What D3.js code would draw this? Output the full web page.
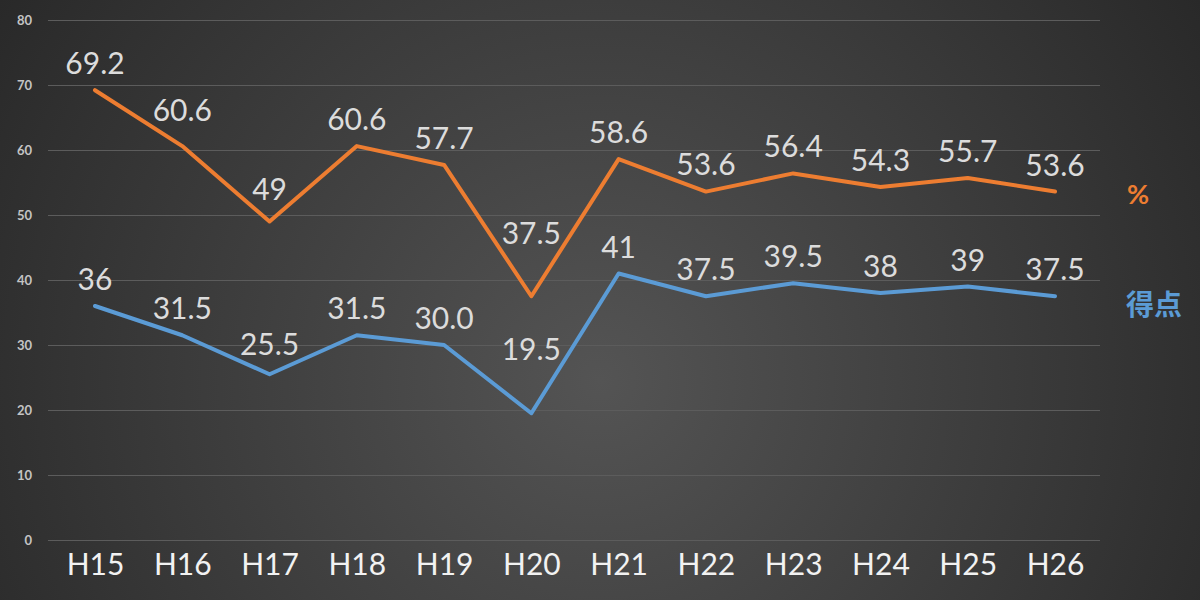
<!DOCTYPE html>
<html>
<head>
<meta charset="utf-8">
<script src="https://cdn.jsdelivr.net/npm/d3@7"></script>
<style>
    body { margin: 0; background: #333; }
    svg { display: block; }
</style>
</head>
<body>
<div id="chart"></div>
<script>
// data
var years = ["H15","H16","H17","H18","H19","H20","H21","H22","H23","H24","H25","H26"];
var pctValues = [69.2, 60.6, 49, 60.6, 57.7, 37.5, 58.6, 53.6, 56.4, 54.3, 55.7, 53.6];
var pctLabels = ["69.2","60.6","49","60.6","57.7","37.5","58.6","53.6","56.4","54.3","55.7","53.6"];
var scoreValues = [36, 31.5, 25.5, 31.5, 30.0, 19.5, 41, 37.5, 39.5, 38, 39, 37.5];
var scoreLabels = ["36","31.5","25.5","31.5","30.0","19.5","41","37.5","39.5","38","39","37.5"];
var yTicks = [0, 10, 20, 30, 40, 50, 60, 70, 80];

var svgWidth = 1200;
var svgHeight = 600;

var svg = d3.select("#chart").append("svg")
    .attr("width", svgWidth)
    .attr("height", svgHeight);

// dark radial background
var defs = svg.append("defs");
var grad = defs.append("radialGradient")
    .attr("id", "bg")
    .attr("gradientUnits", "userSpaceOnUse")
    .attr("cx", 600).attr("cy", 380).attr("r", 760);
grad.append("stop").attr("offset", "0%").attr("stop-color", "#545454");
grad.append("stop").attr("offset", "100%").attr("stop-color", "#262626");

svg.append("rect")
    .attr("width", svgWidth)
    .attr("height", svgHeight)
    .style("fill", "url(#bg)");

var x = d3.scalePoint()
    .domain(years)
    .range([95, 1055]);

var y = d3.scaleLinear()
    .domain([0, 80])
    .range([540, 20]);

// gridlines + y labels
var yAxis = d3.axisLeft(y)
    .tickValues(yTicks)
    .tickSize(-(1100 - 48))
    .tickPadding(16);

var yAxisSVG = svg.append("g")
    .attr("class", "y axis")
    .attr("transform", "translate(48,0)")
    .call(yAxis);
yAxisSVG.select(".domain").remove();
yAxisSVG.selectAll("line")
    .style("stroke", "#5c5c5c")
    .style("stroke-width", 1);
yAxisSVG.selectAll("text")
    .style("fill", "#c4c4c4")
    .style("font-family", "Lato, 'Open Sans', sans-serif")
    .style("font-weight", "bold")
    .style("font-size", "13px");

// x labels
var xAxis = d3.axisBottom(x).tickSize(0).tickPadding(0);
var xAxisSVG = svg.append("g")
    .attr("class", "x axis")
    .attr("transform", "translate(0,552)")
    .call(xAxis);
xAxisSVG.select(".domain").remove();
xAxisSVG.selectAll("text")
    .attr("dy", "0.78em")
    .style("fill", "#f2f2f2")
    .style("font-family", "Lato, 'Open Sans', sans-serif")
    .style("font-size", "30px");

var line = d3.line()
    .x(function(d, i) { return x(years[i]); })
    .y(function(d) { return y(d); });

// y of the polyline at a given pixel x
function lineYAt(values, px) {
    var xs = years.map(function(k) { return x(k); });
    if (px <= xs[0]) return y(values[0]);
    for (var i = 1; i < xs.length; i++) {
        if (px <= xs[i]) {
            var t = (px - xs[i-1]) / (xs[i] - xs[i-1]);
            return y(values[i-1]) + t * (y(values[i]) - y(values[i-1]));
        }
    }
    return y(values[values.length - 1]);
}

function drawSeries(values, labels, color) {
    svg.append("path")
        .datum(values)
        .attr("d", line)
        .style("fill", "none")
        .style("stroke", color)
        .style("stroke-width", 4)
        .style("stroke-linejoin", "round")
        .style("stroke-linecap", "round");

    var texts = svg.append("g").selectAll("text")
        .data(values)
        .enter().append("text")
        .attr("x", function(d, i) { return x(years[i]); })
        .attr("text-anchor", "middle")
        .style("fill", "#dcdcdc")
        .style("font-family", "Lato, 'Open Sans', sans-serif")
        .style("font-size", "30px")
        .text(function(d, i) { return labels[i]; });

    // put label above the point, lifted clear of the line where it dips
    texts.attr("y", function(d, i) {
        var cx = x(years[i]);
        var hw = this.getComputedTextLength() / 2;
        var base = y(d) - 16;
        base = Math.min(base, lineYAt(values, cx - hw) - 6, lineYAt(values, cx + hw) - 6);
        return base;
    });
}

drawSeries(pctValues, pctLabels, "#ed7d31");
drawSeries(scoreValues, scoreLabels, "#5b9bd5");

// series names at the right
svg.append("text")
    .attr("x", 1138)
    .attr("y", 204)
    .attr("text-anchor", "middle")
    .style("fill", "#ed7d31")
    .style("font-family", "Lato, 'Open Sans', sans-serif")
    .style("font-weight", "bold")
    .style("font-size", "27px")
    .text("%");

svg.append("text")
    .attr("x", 1154)
    .attr("y", 315)
    .attr("text-anchor", "middle")
    .style("fill", "#5b9bd5")
    .style("font-family", "'Noto Sans CJK JP', sans-serif")
    .style("font-weight", "bold")
    .style("font-size", "28px")
    .text("得点");
</script>
</body>
</html>
